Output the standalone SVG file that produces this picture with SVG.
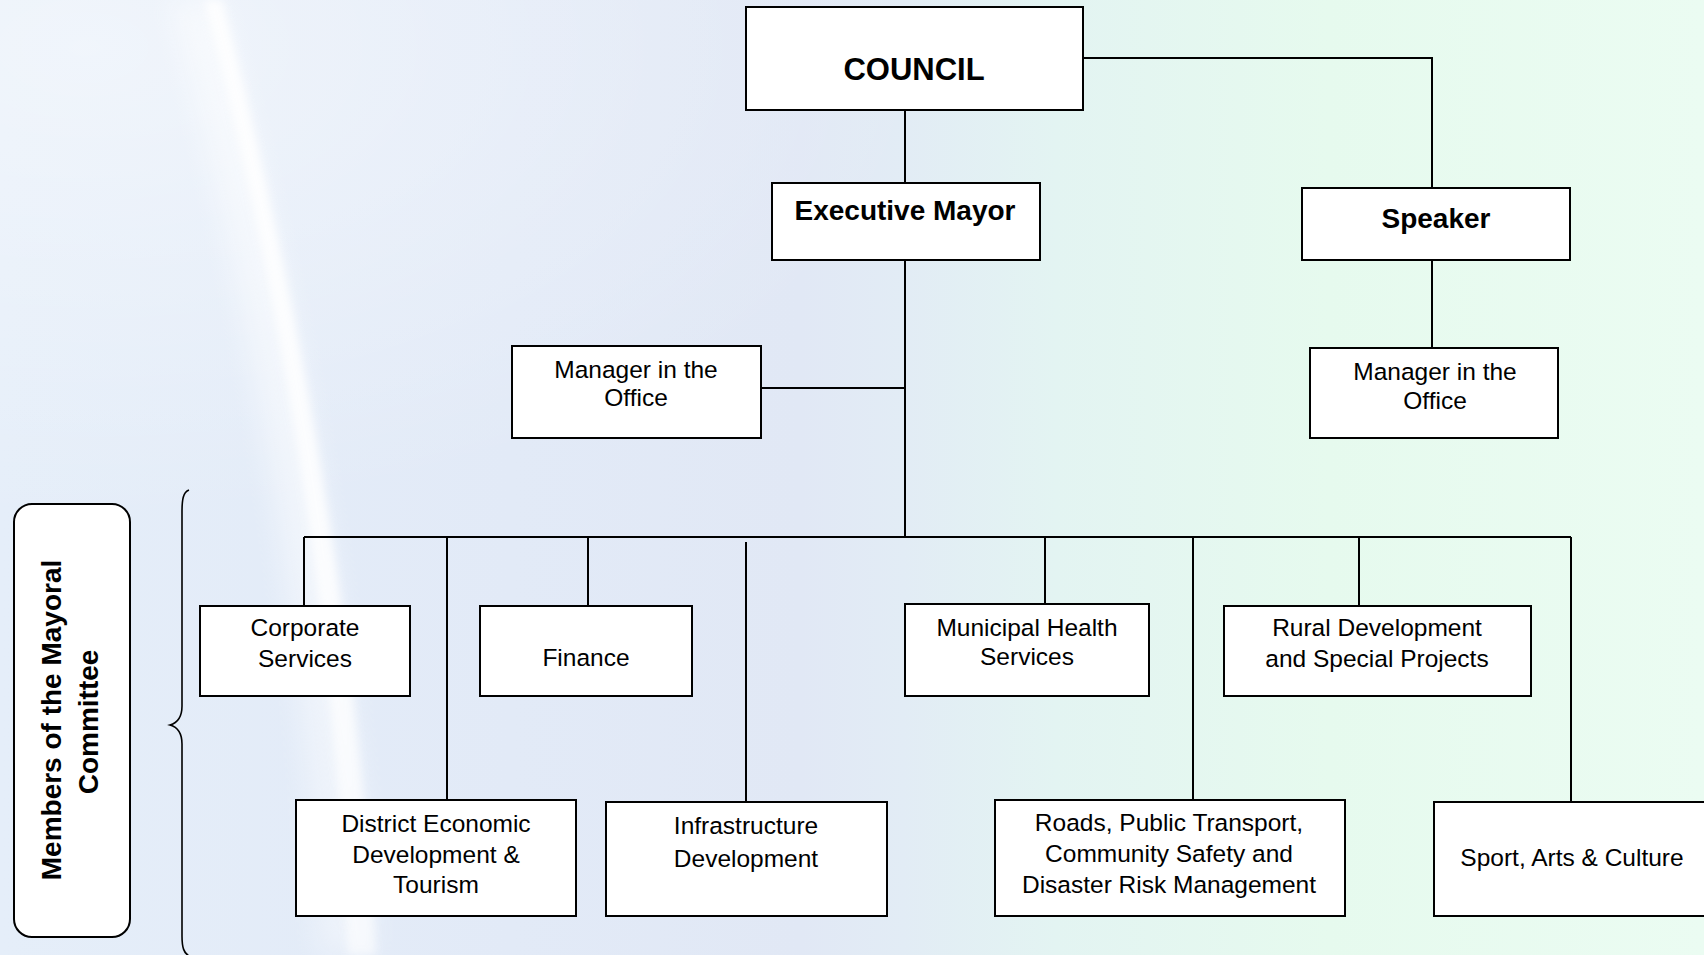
<svg xmlns="http://www.w3.org/2000/svg" width="1704" height="955" viewBox="0 0 1704 955">
  <defs>
    <linearGradient id="bgGrad" x1="0" y1="0" x2="1" y2="0">
      <stop offset="0" stop-color="#e5eef9"/>
      <stop offset="0.3" stop-color="#e2eaf7"/>
      <stop offset="0.47" stop-color="#e1e8f5"/>
      <stop offset="0.53" stop-color="#e2ecf5"/>
      <stop offset="0.62" stop-color="#e3f4f2"/>
      <stop offset="0.78" stop-color="#e6faee"/>
      <stop offset="1" stop-color="#ebfcf2"/>
    </linearGradient>
    <radialGradient id="glow" cx="0.05" cy="0.05" r="0.5">
      <stop offset="0" stop-color="#ffffff" stop-opacity="0.45"/>
      <stop offset="1" stop-color="#ffffff" stop-opacity="0"/>
    </radialGradient>
    <linearGradient id="streakFade" x1="0" y1="0" x2="0" y2="1">
      <stop offset="0" stop-color="#ffffff" stop-opacity="1"/>
      <stop offset="0.6" stop-color="#ffffff" stop-opacity="0.95"/>
      <stop offset="1" stop-color="#ffffff" stop-opacity="0.7"/>
    </linearGradient>
    <filter id="soft" x="-50%" y="-10%" width="200%" height="120%">
      <feGaussianBlur stdDeviation="4"/>
    </filter>
    <filter id="softer" x="-50%" y="-10%" width="200%" height="120%">
      <feGaussianBlur stdDeviation="14"/>
    </filter>
    <style>
      .box { fill: #ffffff; stroke: #000000; stroke-width: 2; }
      .link { fill: none; stroke: #000000; stroke-width: 2; }
      .t { font-family: "Liberation Sans", Arial, sans-serif; font-size: 24.5px; fill: #000000; text-anchor: middle; }
      .tb { font-family: "Liberation Sans", Arial, sans-serif; font-weight: bold; fill: #000000; text-anchor: middle; }
    </style>
  </defs>

  <!-- background with a soft light streak -->
  <rect x="0" y="0" width="1704" height="955" fill="url(#bgGrad)"/>
  <rect x="0" y="0" width="1704" height="955" fill="url(#glow)"/>
  <path d="M170 0 L218 0 Q342 480 374 955 L318 955 Q300 480 170 0 Z" fill="url(#streakFade)" opacity="0.5" filter="url(#softer)"/>
  <path d="M204 0 L222 0 Q346 480 376 955 L348 955 Q328 480 204 0 Z" fill="url(#streakFade)" opacity="0.85" filter="url(#soft)"/>

  <!-- connectors -->
  <g id="connectors">
    <path class="link" d="M905 110 V183"/>
    <path class="link" d="M1083 58 H1432 V188"/>
    <path class="link" d="M905 260 V537"/>
    <path class="link" d="M761 388 H905"/>
    <path class="link" d="M1432 260 V348"/>
    <path class="link" d="M304 537 H1571"/>
    <path class="link" d="M304 537 V606"/>
    <path class="link" d="M447 537 V800"/>
    <path class="link" d="M588 537 V606"/>
    <path class="link" d="M746 542 V802"/>
    <path class="link" d="M1045 537 V604"/>
    <path class="link" d="M1193 537 V800"/>
    <path class="link" d="M1359 537 V606"/>
    <path class="link" d="M1571 537 V802"/>
  </g>

  <!-- nodes -->
  <g id="council">
    <rect class="box" x="746" y="7" width="337" height="103"/>
    <text class="tb" x="914" y="80" font-size="31">COUNCIL</text>
  </g>
  <g id="executive-mayor">
    <rect class="box" x="772" y="183" width="268" height="77"/>
    <text class="tb" x="905" y="220" font-size="28">Executive Mayor</text>
  </g>
  <g id="speaker">
    <rect class="box" x="1302" y="188" width="268" height="72"/>
    <text class="tb" x="1436" y="228" font-size="28">Speaker</text>
  </g>
  <g id="mayor-office-manager">
    <rect class="box" x="512" y="346" width="249" height="92"/>
    <text class="t" x="636" y="378">Manager in the</text>
    <text class="t" x="636" y="406">Office</text>
  </g>
  <g id="speaker-office-manager">
    <rect class="box" x="1310" y="348" width="248" height="90"/>
    <text class="t" x="1435" y="380">Manager in the</text>
    <text class="t" x="1435" y="409">Office</text>
  </g>
  <g id="corporate-services">
    <rect class="box" x="200" y="606" width="210" height="90"/>
    <text class="t" x="305" y="636">Corporate</text>
    <text class="t" x="305" y="667">Services</text>
  </g>
  <g id="finance">
    <rect class="box" x="480" y="606" width="212" height="90"/>
    <text class="t" x="586" y="666">Finance</text>
  </g>
  <g id="municipal-health">
    <rect class="box" x="905" y="604" width="244" height="92"/>
    <text class="t" x="1027" y="636">Municipal Health</text>
    <text class="t" x="1027" y="665">Services</text>
  </g>
  <g id="rural-development">
    <rect class="box" x="1224" y="606" width="307" height="90"/>
    <text class="t" x="1377" y="636">Rural Development</text>
    <text class="t" x="1377" y="667">and Special Projects</text>
  </g>
  <g id="district-economic">
    <rect class="box" x="296" y="800" width="280" height="116"/>
    <text class="t" x="436" y="832">District Economic</text>
    <text class="t" x="436" y="863">Development &amp;</text>
    <text class="t" x="436" y="893">Tourism</text>
  </g>
  <g id="infrastructure">
    <rect class="box" x="606" y="802" width="281" height="114"/>
    <text class="t" x="746" y="834">Infrastructure</text>
    <text class="t" x="746" y="867">Development</text>
  </g>
  <g id="roads-transport">
    <rect class="box" x="995" y="800" width="350" height="116"/>
    <text class="t" x="1169" y="831">Roads, Public Transport,</text>
    <text class="t" x="1169" y="862">Community Safety and</text>
    <text class="t" x="1169" y="893">Disaster Risk Management</text>
  </g>
  <g id="sport-arts">
    <rect class="box" x="1434" y="802" width="285" height="114"/>
    <text class="t" x="1572" y="866">Sport, Arts &amp; Culture</text>
  </g>

  <!-- committee label with brace -->
  <g id="mayoral-committee">
    <rect x="14" y="504" width="116" height="433" rx="18" ry="18" fill="#ffffff" stroke="#000000" stroke-width="2"/>
    <text class="tb" font-size="28" transform="translate(61,720) rotate(-90)">Members of the Mayoral</text>
    <text class="tb" font-size="28" transform="translate(98,722) rotate(-90)">Committee</text>
    <path d="M189 490 C183 492 182 500 182 512 L182 706 C182 718 177 723 170 725 C177 727 182 732 182 744 L182 936 C182 948 184 953 189 956" fill="none" stroke="#000000" stroke-width="1.6"/>
  </g>
</svg>
